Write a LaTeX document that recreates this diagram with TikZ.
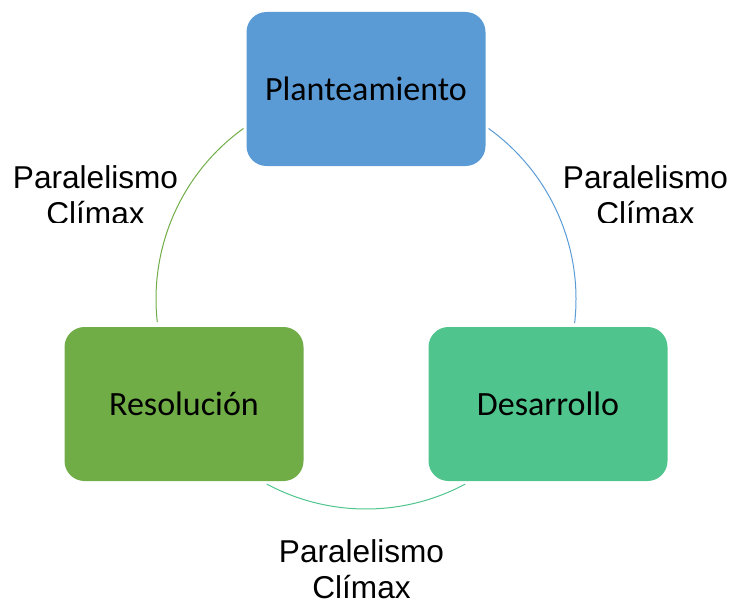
\documentclass[tikz,border=0pt]{standalone}
\usepackage{fontspec}
\setmainfont{Carlito}
\newfontfamily\arialfont{Liberation Sans}
\usepackage{xcolor}
\usepackage{tikz}
\definecolor{planblue}{HTML}{5B9BD5}
\definecolor{desteal}{HTML}{4FC58D}
\definecolor{resgreen}{HTML}{70AD47}

\begin{document}
\begin{tikzpicture}[x=0.5pt,y=0.5pt,
    stage/.style={rounded corners=10pt,minimum width=119.5pt,minimum height=77pt,font=\fontsize{17}{20}\selectfont},
    note/.style={align=center,anchor=base,font=\arialfont\fontsize{15.8}{18}\selectfont},
    ring/.style={line width=0.5pt}]
    \useasboundingbox (0,0) rectangle (731,601);
    \node[stage,fill=planblue] (plan) at (366,512) {Planteamiento};
    \node[stage,fill=desteal] (des) at (548,197) {Desarrollo};
    \node[stage,fill=resgreen] (res) at (184,197) {Resolución};
    \coordinate (c) at (366,302);
    \draw[ring,planblue] ([shift={(54.3:210)}]c) arc[start angle=54.3,end angle=-6.6,radius=210];
    \draw[ring,desteal] ([shift={(-61.8:210)}]c) arc[start angle=-61.8,end angle=-118.2,radius=210];
    \draw[ring,resgreen] ([shift={(186.3:210)}]c) arc[start angle=186.3,end angle=125.7,radius=210];
    \begin{scope}
      \clip (0,378.5) rectangle (731,601);
      \node[note] (leftnote) at (95.5,377) {Paralelismo\\Clímax};
      \node[note] (rightnote) at (645.5,377) {Paralelismo\\Clímax};
    \end{scope}
    \node[note] (botnote) at (361.5,3) {Paralelismo\\Clímax};
  \end{tikzpicture}
\end{document}
